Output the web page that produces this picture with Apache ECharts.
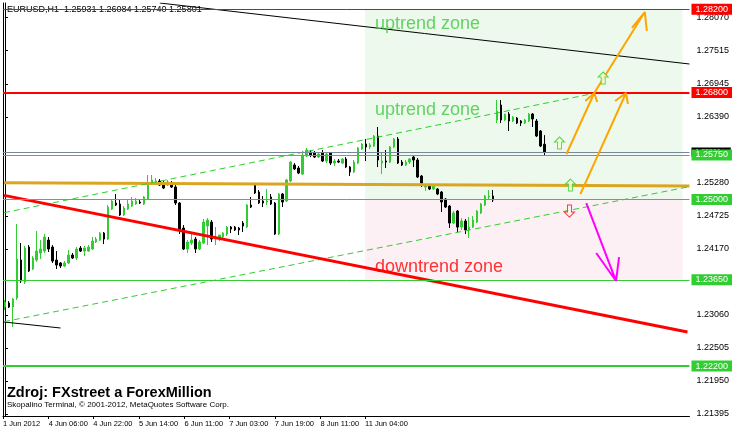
<!DOCTYPE html>
<html><head><meta charset="utf-8">
<script src="https://cdn.jsdelivr.net/npm/echarts@6/dist/echarts.min.js"></script>
<style>html,body{margin:0;padding:0;background:#fff}#c{width:732px;height:434px}</style>
</head><body><div id="c"></div>
<script>
// ---- DATA ----
const openP = [1.23192,1.23260,1.23192,1.23344,1.23983,1.23613,1.24202,1.23832,1.23983,1.24101,1.24134,1.24319,1.24202,1.23983,1.23933,1.23882,1.23933,1.24067,1.24017,1.24185,1.24134,1.24134,1.24168,1.24286,1.24319,1.24437,1.24336,1.24841,1.24942,1.24925,1.24740,1.24841,1.24891,1.24925,1.24959,1.24925,1.25009,1.25261,1.25278,1.25312,1.25278,1.25244,1.25261,1.25211,1.24942,1.24521,1.24168,1.24269,1.24336,1.24168,1.24269,1.24555,1.24622,1.24336,1.24336,1.24370,1.24420,1.24538,1.24538,1.24521,1.24605,1.24538,1.24908,1.25244,1.25127,1.24975,1.24959,1.25043,1.24942,1.24420,1.25093,1.24975,1.25312,1.25581,1.25530,1.25429,1.25732,1.25800,1.25783,1.25715,1.25783,1.25648,1.25783,1.25614,1.25648,1.25614,1.25682,1.25547,1.25463,1.25614,1.25850,1.25934,1.25884,1.25900,1.26069,1.25614,1.25648,1.25631,1.25884,1.26018,1.25631,1.25581,1.25631,1.25715,1.25665,1.25396,1.25211,1.25228,1.25177,1.25177,1.25127,1.25009,1.24891,1.24605,1.24807,1.24538,1.24639,1.24488,1.24538,1.24622,1.24774,1.24908,1.25043,1.25059,1.26338,1.26590,1.26338,1.26439,1.26321,1.26371,1.26321,1.26287,1.26321,1.26439,1.26321,1.26153,1.25931];
const highP = [1.23310,1.23293,1.23344,1.24589,1.24269,1.24219,1.24235,1.24050,1.24471,1.24319,1.24420,1.24370,1.24235,1.24134,1.23949,1.23966,1.24151,1.24101,1.24202,1.24219,1.24219,1.24235,1.24370,1.24370,1.24454,1.24454,1.24908,1.24992,1.25093,1.24992,1.24891,1.24992,1.25043,1.25026,1.24992,1.25059,1.25413,1.25413,1.25362,1.25345,1.25312,1.25329,1.25312,1.25244,1.24959,1.24572,1.24319,1.24437,1.24370,1.24319,1.24673,1.24689,1.24656,1.24538,1.24404,1.24454,1.24555,1.24555,1.24555,1.24538,1.24639,1.24925,1.25043,1.25278,1.25160,1.25059,1.25177,1.25093,1.24959,1.25110,1.25110,1.25345,1.25648,1.25614,1.25564,1.25816,1.25867,1.25833,1.25816,1.25800,1.25833,1.25800,1.25800,1.25682,1.25682,1.25699,1.25715,1.25564,1.25665,1.25884,1.25951,1.26018,1.25951,1.26085,1.26220,1.25783,1.25833,1.25900,1.26035,1.26052,1.25665,1.25665,1.25699,1.25749,1.25699,1.25413,1.25261,1.25244,1.25261,1.25194,1.25144,1.25026,1.24908,1.24807,1.24824,1.24689,1.24673,1.24706,1.24723,1.24824,1.24942,1.25076,1.25160,1.25160,1.26674,1.26674,1.26439,1.26472,1.26405,1.26388,1.26338,1.26355,1.26455,1.26455,1.26355,1.26170,1.26084];
const lowP = [1.23142,1.23176,1.22856,1.23310,1.23596,1.23579,1.23781,1.23815,1.23949,1.24000,1.24101,1.24118,1.23933,1.23832,1.23848,1.23865,1.23916,1.24000,1.23983,1.24118,1.24050,1.24118,1.24151,1.24269,1.24303,1.24252,1.24319,1.24824,1.24891,1.24723,1.24723,1.24824,1.24874,1.24908,1.24925,1.24908,1.24992,1.25244,1.25244,1.25228,1.25177,1.25228,1.25194,1.24908,1.24420,1.24151,1.24101,1.24235,1.24101,1.24151,1.24252,1.24235,1.24286,1.24235,1.24303,1.24353,1.24387,1.24437,1.24471,1.24404,1.24454,1.24521,1.24858,1.25093,1.24925,1.24874,1.24908,1.24908,1.24404,1.24404,1.24874,1.24959,1.25295,1.25497,1.25429,1.25413,1.25715,1.25715,1.25699,1.25699,1.25631,1.25614,1.25581,1.25564,1.25614,1.25598,1.25530,1.25396,1.25446,1.25598,1.25833,1.25648,1.25850,1.25884,1.25547,1.25429,1.25530,1.25614,1.25867,1.25598,1.25564,1.25564,1.25598,1.25547,1.25362,1.25211,1.25144,1.25160,1.25160,1.25076,1.24790,1.24858,1.24521,1.24589,1.24454,1.24488,1.24420,1.24353,1.24521,1.24605,1.24757,1.24891,1.24992,1.24959,1.26287,1.26287,1.26321,1.26153,1.26304,1.26270,1.26237,1.26270,1.26304,1.26220,1.26052,1.25884,1.25740];
const closeP = [1.23277,1.23192,1.23327,1.24000,1.23630,1.24185,1.23798,1.24017,1.24134,1.24168,1.24370,1.24168,1.23966,1.23899,1.23882,1.23933,1.24067,1.24017,1.24168,1.24134,1.24185,1.24202,1.24303,1.24336,1.24437,1.24336,1.24874,1.24975,1.24908,1.24740,1.24858,1.24925,1.24975,1.24975,1.24942,1.25043,1.25278,1.25329,1.25312,1.25244,1.25194,1.25295,1.25211,1.24942,1.24488,1.24168,1.24286,1.24319,1.24168,1.24286,1.24622,1.24656,1.24336,1.24370,1.24404,1.24437,1.24538,1.24504,1.24488,1.24488,1.24555,1.24908,1.24874,1.25110,1.24942,1.24942,1.24975,1.24925,1.24420,1.25093,1.24959,1.25329,1.25631,1.25514,1.25446,1.25749,1.25833,1.25749,1.25715,1.25766,1.25648,1.25766,1.25614,1.25648,1.25631,1.25682,1.25547,1.25463,1.25631,1.25867,1.25934,1.25884,1.25917,1.26069,1.25665,1.25648,1.25631,1.25884,1.26018,1.25614,1.25581,1.25631,1.25682,1.25665,1.25379,1.25278,1.25244,1.25177,1.25244,1.25093,1.24959,1.24874,1.24605,1.24774,1.24538,1.24639,1.24488,1.24538,1.24656,1.24807,1.24925,1.25059,1.25059,1.24992,1.26489,1.26338,1.26439,1.26321,1.26388,1.26287,1.26287,1.26338,1.26439,1.26355,1.26069,1.25900,1.25801];

const symbolName = 'EURUSD,H1';
const lastBar = [1.25931, 1.26084, 1.25740, 1.25801];   // O H L C
const priceTicks = [1.21395, 1.21950, 1.22505, 1.23060, 1.24170, 1.24725, 1.25280, 1.26390, 1.26945, 1.27515, 1.28070];
const timeTickBars = [-0.5, 11, 22.25, 33.75, 45.25, 56.5, 68, 79.5, 90.75];
const timeTickLabels = ['1 Jun 2012', '4 Jun 06:00', '4 Jun 22:00', '5 Jun 14:00', '6 Jun 11:00', '7 Jun 03:00', '7 Jun 19:00', '8 Jun 11:00', '11 Jun 04:00'];

const redLevels = [1.28200, 1.26800];
const greenLevels = [1.25750, 1.25000, 1.23650, 1.22200];
const bidPrice = 1.25801;

// zones [startBar, endBar, topPrice, bottomPrice]
const upZone = [90.75, 170.75, 1.28200, 1.25000];
const downZone = [90.75, 170.75, 1.25000, 1.23650];

// trend lines as [bar, price] endpoints
const blackTrendTop = [[39, 1.28306], [172.5, 1.27280]];
const blackTrendSmall = [[-0.25, 1.22941], [14, 1.22840]];
const redTrend = [[-0.25, 1.25071], [172, 1.22772]];
const channelUpper = [[-0.25, 1.24779], [148.5, 1.26787]];
const channelLower = [[-0.25, 1.22946], [172, 1.25211]];
const goldLine = [[-0.25, 1.25283], [172.5, 1.25228]];

// hand drawn arrows (polylines in [bar, price]); null breaks a stroke
const orangeArrows = [
  [141.5, 1.25766], [148.5, 1.26792], null,
  [146.25, 1.26657], [148.5, 1.26792], [149.25, 1.26640], null,
  [145, 1.25093], [156.5, 1.26792], null,
  [153.75, 1.26657], [156.5, 1.26792], [157, 1.26607], null,
  [148.5, 1.26792], [161.25, 1.28154], null,
  [158, 1.27887], [161.25, 1.28154], [161.75, 1.27835]
];
const magentaArrow = [
  [146.5, 1.24942], [154, 1.23630], null,
  [149, 1.24101], [154, 1.23630], [154.75, 1.24034]
];
const upIcons = [[139.75, 1.25951], [150.75, 1.27044], [142.5, 1.25244]];
const downIcons = [[142.25, 1.24807]];

const zoneTexts = [
  {pos: [93.25, 1.27960], text: 'uptrend zone', color: '#3fc93f'},
  {pos: [93.25, 1.26506], text: 'uptrend zone', color: '#3fc93f'},
  {pos: [93.25, 1.23865], text: 'downtrend zone', color: '#ff0000'}
];

// ---- CHART ----
const FONT = 'Liberation Sans, Arial, sans-serif';
const LIME = '#32cd32';
const chart = echarts.init(document.getElementById('c'), null, {renderer: 'canvas', width: 732, height: 434});

const candles = openP.map((o, i) => [i, o, closeP[i], lowP[i], highP[i]]);
const brk = arr => arr.map(p => p === null ? ['-', '-'] : p);

const lineSeries = (data, color, width, type, z) => ({
  type: 'line', data, symbol: 'none', silent: true, animation: false, z,
  lineStyle: {color, width, type: type || 'solid'}, connectNulls: false, clip: true
});

const levelLabel = (bg, small) => ({
  show: true, position: 'end', distance: 2, color: '#fff', backgroundColor: bg,
  fontSize: small ? 7 : 9, fontFamily: FONT, lineHeight: small ? 9 : 10,
  padding: small ? [0, 10, 0, 4] : [1, 8, 0, 4],
  formatter: p => Number(p.value).toFixed(5)
});

const markLineData = [
  {yAxis: bidPrice, lineStyle: {color: '#778899', width: 1, type: 'solid'}, label: levelLabel('#000', true)}
].concat(
  redLevels.map((v, i) => ({yAxis: v, lineStyle: {color: '#ff0000', width: i === 0 ? 1 : 2, type: 'solid'}, label: levelLabel('#ff0000')})),
  greenLevels.map((v, i) => ({yAxis: v, lineStyle: {color: LIME, width: i === 3 ? 2 : 1, type: 'solid'}, label: levelLabel(LIME)}))
);

const arrowPath = 'path://M5,0 L10,5 L7,5 L7,12 L3,12 L3,5 L0,5 Z';

const option = {
  animation: false,
  backgroundColor: '#fff',
  grid: {left: 2, right: 38, top: 3, bottom: 18},
  xAxis: {
    type: 'value', min: -0.5, max: 172.5,
    splitLine: {show: false},
    axisLine: {show: true, onZero: false, lineStyle: {color: '#000', width: 1}},
    axisTick: {show: true, customValues: timeTickBars, length: 3, lineStyle: {color: '#000'}},
    axisLabel: {show: true, customValues: timeTickBars, align: 'left', margin: 4,
      fontSize: 7.5, fontFamily: FONT, color: '#000',
      formatter: v => { const i = timeTickBars.indexOf(v); return i >= 0 ? timeTickLabels[i] : ''; }}
  },
  yAxis: [{
    type: 'value', position: 'right', min: 1.21360, max: 1.28306, scale: true,
    splitLine: {show: false},
    axisLine: {show: true, lineStyle: {color: '#000', width: 1}},
    axisTick: {show: true, customValues: priceTicks, length: 3, lineStyle: {color: '#000'}},
    axisLabel: {show: true, customValues: priceTicks, margin: 7, fontSize: 9, fontFamily: FONT, color: '#000',
      formatter: v => v.toFixed(5)}
  }, {
    type: 'value', position: 'left', min: 1.21360, max: 1.28306, scale: true,
    splitLine: {show: false}, axisTick: {show: false}, axisLabel: {show: false},
    axisLine: {show: true, lineStyle: {color: '#000', width: 1}}
  }],
  graphic: [
    {type: 'text', left: 7, top: 5, z: 0, silent: true,
      style: {text: symbolName + '  ' + lastBar.map(v => v.toFixed(5)).join(' '), font: '9px ' + FONT, fill: '#000'}},
    {type: 'text', left: 7, top: 385, z: 10, silent: true,
      style: {text: 'Zdroj: FXstreet a ForexMillion', font: 'bold 14.5px ' + FONT, fill: '#000'}},
    {type: 'text', left: 7, top: 401, z: 10, silent: true,
      style: {text: 'Skopalino Terminal, © 2001-2012, MetaQuotes Software Corp.', font: '8px ' + FONT, fill: '#000'}}
  ],
  series: [
    {
      type: 'line', data: [], z: 1, silent: true,
      markArea: {silent: true, precision: 5, data: [
        [{xAxis: upZone[0], yAxis: upZone[2], itemStyle: {color: '#edf9ed'}}, {xAxis: upZone[1], yAxis: upZone[3]}],
        [{xAxis: downZone[0], yAxis: downZone[2], itemStyle: {color: '#fdf0f4'}}, {xAxis: downZone[1], yAxis: downZone[3]}]
      ]}
    },
    {
      type: 'candlestick', data: candles, z: 3, silent: true, barWidth: 2,
      encode: {x: 0, y: [1, 2, 3, 4]},
      itemStyle: {color: LIME, color0: '#000', borderColor: LIME, borderColor0: '#000', borderWidth: 1}
    },
    lineSeries(goldLine, '#daa520', 3, 'solid', 4),
    lineSeries(blackTrendTop, '#000', 1, 'solid', 4),
    lineSeries(blackTrendSmall, '#000', 1, 'solid', 4),
    lineSeries(channelUpper, LIME, 1, [6, 4], 4),
    lineSeries(channelLower, LIME, 1, [6, 4], 4),
    lineSeries(redTrend, '#ff0000', 3, 'solid', 4),
    {
      type: 'line', data: [], z: 5, silent: true,
      markLine: {silent: true, precision: 5, symbol: ['none', 'none'], animation: false, data: markLineData}
    },
    lineSeries(brk(orangeArrows), '#ffa500', 2, 'solid', 6),
    lineSeries(brk(magentaArrow), '#ff00ff', 2, 'solid', 6),
    {
      type: 'scatter', data: upIcons, z: 7, silent: true, symbol: arrowPath, symbolSize: [10, 12],
      itemStyle: {color: '#f4ffd0', borderColor: LIME, borderWidth: 1}
    },
    {
      type: 'scatter', data: downIcons, z: 7, silent: true, symbol: arrowPath, symbolSize: [10, 12], symbolRotate: 180,
      itemStyle: {color: '#fff0f0', borderColor: '#ff0000', borderWidth: 1}
    },
    {
      type: 'scatter', z: 8, silent: true, symbolSize: 0,
      data: zoneTexts.map(t => ({value: t.pos, label: {formatter: t.text, color: t.color}})),
      label: {show: true, position: 'right', distance: 0, fontSize: 18, fontFamily: FONT}
    }
  ]
};
chart.setOption(option);
</script>
</body></html>
